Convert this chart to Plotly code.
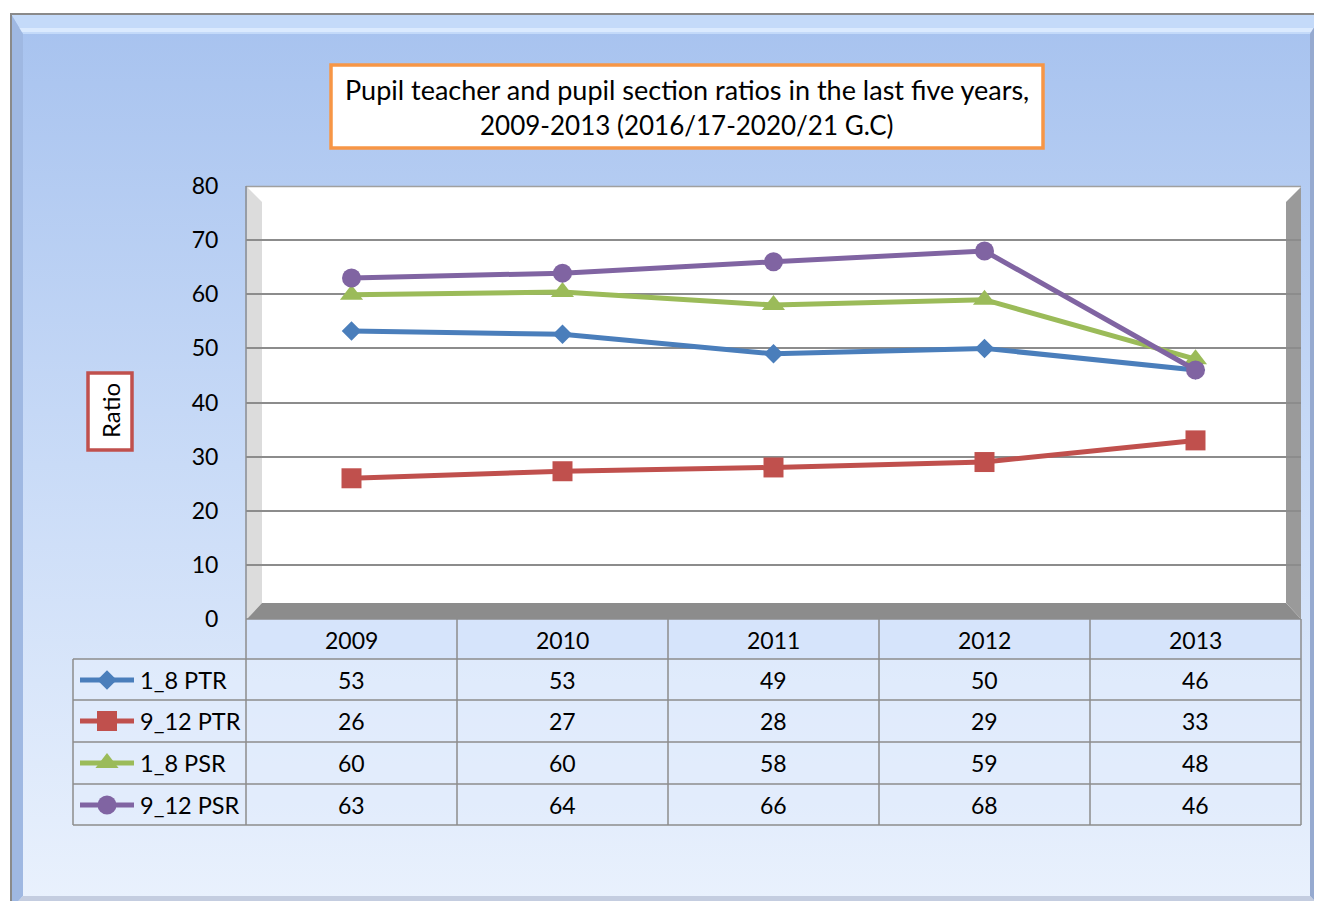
import plotly.graph_objects as go

# Series values as plotted (table below shows them rounded)
years = ['2009', '2010', '2011', '2012', '2013']
ptr_1_8 = [53.2, 52.6, 49.0, 50.0, 46.0]
ptr_9_12 = [26.0, 27.3, 28.0, 29.0, 33.0]
psr_1_8 = [59.9, 60.4, 58.0, 59.0, 48.0]
psr_9_12 = [63.0, 63.9, 66.0, 68.0, 46.0]
names = ['1_8 PTR', '9_12 PTR', '1_8 PSR', '9_12 PSR']
y_ticks = [0, 10, 20, 30, 40, 50, 60, 70, 80]

series = [ptr_1_8, ptr_9_12, psr_1_8, psr_9_12]
colors = ['#4A7EBB', '#C0504D', '#9BBB59', '#8064A2']
symbols = ['diamond', 'square', 'triangle-up', 'circle']
sizes = [15, 20, 20, 19]

# page has an 8px body margin; figure fills the rest of the 1322x909 window
OX, OY = 8, 8
W, H = 1306, 893
FONT = 'Lato'


def Y(py):
    return -py


fig = go.Figure()


def poly(pts, color, **kw):
    xs = [p[0] for p in pts] + [pts[0][0]]
    ys = [Y(p[1]) for p in pts] + [Y(pts[0][1])]
    fig.add_trace(go.Scatter(x=xs, y=ys, mode='lines', fill='toself', fillcolor=color,
                             line=dict(width=0, color=color), hoverinfo='skip',
                             showlegend=False, xaxis='x', yaxis='y', **kw))


# background gradient of chart area
poly([(11, 14), (1322, 14), (1322, 909), (11, 909)], '#c8daf7',
     fillgradient=dict(type='vertical', start=Y(900), stop=Y(30),
                       colorscale=[[0, '#e9f1fd'], [0.5, '#c9dbf7'], [1, '#a8c3ef']]))
# bevel edges
poly([(11, 14), (1322, 14), (1310, 34), (23, 34)], '#c4daf9')
poly([(11, 28), (1322, 28), (1322, 32), (11, 32)], 'rgba(225,238,255,0.8)')
poly([(11, 14), (23, 34), (23, 896), (11, 909)], '#9fb8e2')
poly([(1322, 14), (1310, 34), (1310, 896), (1322, 909)], '#96aad0')
poly([(11, 909), (23, 896), (1310, 896), (1322, 909)], '#c4cde0')

# table cells
poly([(246, 619), (1301, 619), (1301, 659), (246, 659)], 'rgba(214,228,251,0.8)')
poly([(73, 659), (1301, 659), (1301, 825), (73, 825)], 'rgba(226,236,252,0.7)')

# plot area with 3D walls
poly([(247, 187), (1301, 187), (1301, 619), (247, 619)], '#ffffff')
poly([(247, 187), (262, 202), (262, 603), (247, 619)], '#dcdcdc')
poly([(247, 619), (262, 603), (1286, 603), (1301, 619)], '#8c8c8c')
poly([(1286, 202), (1301, 187), (1301, 619), (1286, 603)], '#9a9a9a')

# data lines
for name, vals, c, sym, s in zip(names, series, colors, symbols, sizes):
    fig.add_trace(go.Scatter(x=years, y=vals, name=name, mode='lines+markers',
                             line=dict(color=c, width=5),
                             marker=dict(symbol=sym, size=s, color=c),
                             xaxis='x2', yaxis='y2', showlegend=False))

# table
row_y = [680, 721, 763, 805]
col_x = [351.5, 562.5, 773.5, 984.5, 1195.5]
annotations = []
for cx, yr in zip(col_x, years):
    annotations.append(dict(x=cx, y=Y(640), text=yr))
for ry, name, vals, c, sym, s in zip(row_y, names, series, colors, symbols, sizes):
    fig.add_trace(go.Scatter(x=[80, 134], y=[Y(ry), Y(ry)], mode='lines',
                             line=dict(color=c, width=5), hoverinfo='skip',
                             showlegend=False, xaxis='x', yaxis='y'))
    fig.add_trace(go.Scatter(x=[107], y=[Y(ry)], mode='markers',
                             marker=dict(symbol=sym, size=s, color=c), hoverinfo='skip',
                             showlegend=False, xaxis='x', yaxis='y'))
    annotations.append(dict(x=138, y=Y(ry), text=name, xanchor='left', size=23.5))
    for cx, v in zip(col_x, vals):
        annotations.append(dict(x=cx, y=Y(ry), text='%.0f' % v))

# title and axis title
annotations.append(dict(x=687, y=Y(89), size=27,
                        text='Pupil teacher and pupil section ratios in the last five years,'))
annotations.append(dict(x=687, y=Y(125), size=26, text='2009-2013 (2016/17-2020/21 G.C)'))
annotations.append(dict(x=110, y=Y(411), text='Ratio', textangle=-90, size=24))

for a in annotations:
    a.setdefault('xanchor', 'center')
    fs = a.pop('size', 23)
    a.update(xref='x', yref='y', yanchor='middle', showarrow=False,
             font=dict(family=FONT, size=fs, color='#000000'))

line_c = '#8c8c8c'
shapes = [
    dict(type='rect', x0=331, x1=1043, y0=Y(65), y1=Y(148), fillcolor='#ffffff',
         line=dict(color='#F79646', width=3.5)),
    dict(type='rect', x0=88, x1=132, y0=Y(373), y1=Y(450), fillcolor='#ffffff',
         line=dict(color='#C0504D', width=3.5)),
    dict(type='rect', x0=11, x1=1330, y0=Y(14), y1=Y(920), line=dict(color='#8a8a8a', width=2)),
    dict(type='line', x0=246, x1=1301, y0=Y(186.5), y1=Y(186.5), line=dict(color='#a0a0a0', width=1.5)),
    dict(type='line', x0=246, x1=1301, y0=Y(619), y1=Y(619), line=dict(color=line_c, width=1.5)),
    dict(type='line', x0=246, x1=246, y0=Y(186), y1=Y(825), line=dict(color=line_c, width=1.5)),
    dict(type='line', x0=73, x1=73, y0=Y(659), y1=Y(825), line=dict(color=line_c, width=1.5)),
]
for hy in [659, 700, 742, 784, 825]:
    shapes.append(dict(type='line', x0=73, x1=1301, y0=Y(hy), y1=Y(hy), line=dict(color=line_c, width=1.5)))
for vx in [457, 668, 879, 1090, 1301]:
    shapes.append(dict(type='line', x0=vx, x1=vx, y0=Y(619), y1=Y(825), line=dict(color=line_c, width=1.5)))
for s in shapes:
    s.update(xref='x', yref='y', layer='above')


def dom_x(a, b):
    return [(a - OX) / W, (b - OX) / W]


def dom_y(top, bottom):
    return [(OY + H - bottom) / H, (OY + H - top) / H]


fig.update_layout(
    width=W, height=H,
    margin=dict(l=0, r=0, t=0, b=0, pad=0),
    paper_bgcolor='#ffffff',
    plot_bgcolor='rgba(0,0,0,0)',
    showlegend=False,
    annotations=annotations,
    shapes=shapes,
    xaxis=dict(range=[OX, OX + W], domain=[0, 1], visible=False, fixedrange=True),
    yaxis=dict(range=[Y(OY + H), Y(OY)], domain=[0, 1], visible=False, fixedrange=True),
    xaxis2=dict(type='category', range=[-0.5, 4.5], domain=dom_x(246, 1301),
                anchor='y2', showticklabels=False, showgrid=False, zeroline=False,
                showline=False, fixedrange=True, automargin=False),
    yaxis2=dict(range=[0, 80], domain=dom_y(186, 619), anchor='x2',
                tickvals=y_ticks, showgrid=True, gridcolor='#8c8c8c', gridwidth=1.5,
                zeroline=False, showline=False, ticks='outside', ticklen=22,
                tickcolor='rgba(0,0,0,0)', tickfont=dict(family=FONT, size=23, color='#000000'),
                fixedrange=True, automargin=False),
)

fig.write_html("out.html")
